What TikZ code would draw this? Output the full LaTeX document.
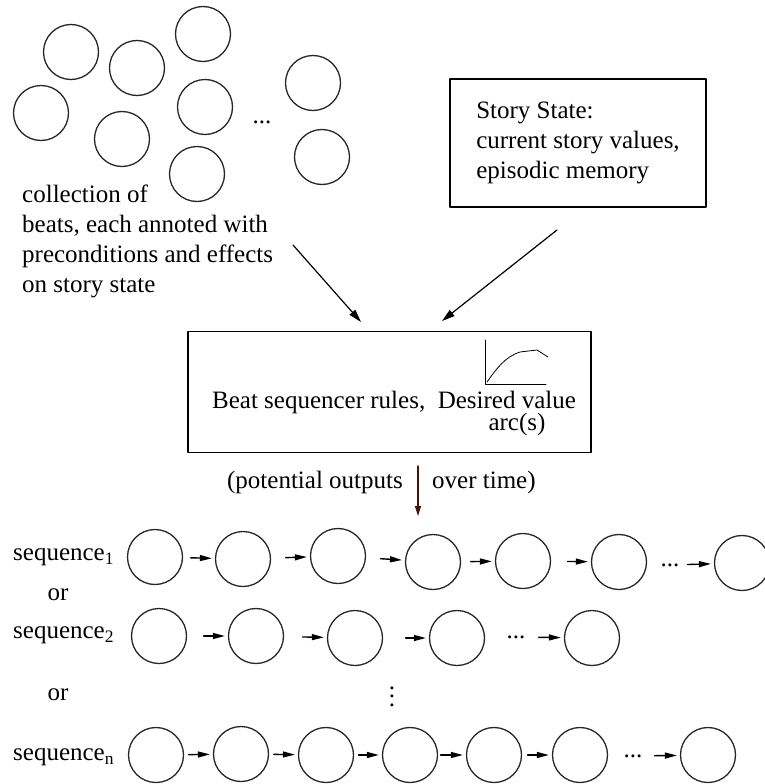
\documentclass[tikz,border=0pt]{standalone}
\usepackage{fontspec}
\setmainfont{Liberation Serif}
\usepackage{tikz}
\usetikzlibrary{arrows.meta}
\definecolor{outbrown}{RGB}{62,22,12}

\begin{document}
\begin{tikzpicture}[line cap=round,line join=round,>={Triangle[length=12pt,width=6pt]},x=1pt,y=-1pt,font=\fontsize{25}{30}\selectfont,
	beat/.style={draw=black!85,circle,line width=1.3pt,minimum size=55pt,inner sep=0pt},
	lbl/.style={inner sep=0pt},
	flow/.style={-{Triangle[length=13pt,width=7.5pt]},line width=1.2pt},
	seqarr/.style={->,line width=1.4pt,shorten >=3pt}]
	\useasboundingbox (0,0) rectangle (764,784);
	\node[beat] (pa) at (71,52) {};
	\node[beat] (pb) at (137,68) {};
	\node[beat] (pc) at (203,34) {};
	\node[beat] (pd) at (41,113) {};
	\node[beat] (pe) at (205,107) {};
	\node[beat] (pf) at (122,139) {};
	\node[beat] (pg) at (197,174) {};
	\node[beat] (ph) at (313,83) {};
	\node[beat] (pi) at (322,157) {};
	\node[lbl] (pdots) at (262,122) {...};
	\node[lbl,anchor=north west,align=left] (pool) at (22,185) {collection of\\beats, each annoted with\\preconditions and effects\\on story state};
	\node[draw,line width=1.2pt,minimum width=256pt,minimum height=128pt,align=left] (state) at (578,143) {Story State:\\current story values,\\episodic memory};
	\node[draw,line width=1.2pt,minimum width=403pt,minimum height=121pt] (rules) at (389.5,392) {};
	\node[lbl] (rulestext) at (394,402) {Beat sequencer rules,~ Desired value};
	\node[lbl] (arctext) at (517,424) {arc(s)};
	\draw [line width=0.8pt] (485,340) -- (485,384) -- (546,384);
	\draw [line width=0.8pt] (487,382) .. controls (497,368) and (505,357) .. (520,352) -- (537,350) -- (548,357);
	\coordinate (fromL) at (293,245);
	\coordinate (toL) at (361,322);
	\coordinate (fromR) at (557,230);
	\coordinate (toR) at (442,321);
	\draw [flow] (fromL) -- (toL);
	\draw [flow] (fromR) -- (toR);
	\coordinate (outtop) at (418,466);
	\coordinate (outbot) at (418,516);
	\draw [-{Triangle[length=10pt,width=6pt]},line width=1.2pt,color=outbrown] (outtop) -- (outbot);
	\node[lbl,anchor=east] (outl) at (403,482) {(potential outputs};
	\node[lbl,anchor=west] (outr) at (432,482) {over time)};
	\node[lbl,anchor=west] (seq1) at (13,557) {sequence\textsubscript{1}};
	\node[lbl] (or1) at (58,595) {or};
	\node[lbl,anchor=west] (seq2) at (13,635) {sequence\textsubscript{2}};
	\node[lbl] (or2) at (58,695) {or};
	\node[lbl,anchor=west] (seqn) at (13,757) {sequence\textsubscript{n}};
	\node[lbl,align=center,font=\fontsize{25}{8.5}\selectfont] (vdots) at (392,696.5) {.\\.\\.};
	\node[beat] (s1a) at (155,557) {};
	\node[beat] (s1b) at (243,559) {};
	\node[beat] (s1c) at (338,556) {};
	\node[beat] (s1d) at (433,562) {};
	\node[beat] (s1e) at (523,561) {};
	\node[beat] (s1f) at (619,562) {};
	\node[lbl] (s1dots) at (670,565) {...};
	\node[beat] (s1g) at (742,563) {};
	\draw [seqarr,shorten <=7.5pt] (s1a) -- (s1b);
	\draw [seqarr,shorten <=14.5pt] (s1b) -- (s1c);
	\draw [seqarr,shorten <=14.5pt] (s1c) -- (s1d);
	\draw [seqarr,shorten <=9.5pt] (s1d) -- (s1e);
	\draw [seqarr,shorten <=16.5pt] (s1e) -- (s1f);
	\draw [seqarr,shorten <=8pt] (s1dots) -- (s1g);
	\node[beat] (s2a) at (159,636) {};
	\node[beat] (s2b) at (256,636) {};
	\node[beat] (s2c) at (355,638) {};
	\node[beat] (s2d) at (457,638) {};
	\node[lbl] (s2dots) at (516,637) {...};
	\node[beat] (s2e) at (592,638) {};
	\draw [seqarr,shorten <=16.5pt] (s2a) -- (s2b);
	\draw [seqarr,shorten <=18.5pt] (s2b) -- (s2c);
	\draw [seqarr,shorten <=22.5pt] (s2c) -- (s2d);
	\draw [seqarr,shorten <=13pt] (s2dots) -- (s2e);
	\node[beat] (sna) at (156,755) {};
	\node[beat] (snb) at (241,754) {};
	\node[beat] (snc) at (326,755) {};
	\node[beat] (snd) at (410,755) {};
	\node[beat] (sne) at (494,755) {};
	\node[beat] (snf) at (580,755) {};
	\node[lbl] (sndots) at (633,756) {...};
	\node[beat] (sng) at (708,755) {};
	\draw [seqarr,shorten <=4.5pt] (sna) -- (snb);
	\draw [seqarr,shorten <=4.5pt] (snb) -- (snc);
	\draw [seqarr,shorten <=4.5pt] (snc) -- (snd);
	\draw [seqarr,shorten <=2.5pt] (snd) -- (sne);
	\draw [seqarr,shorten <=5.5pt] (sne) -- (snf);
	\draw [seqarr,shorten <=12pt] (sndots) -- (sng);
\end{tikzpicture}
\end{document}
